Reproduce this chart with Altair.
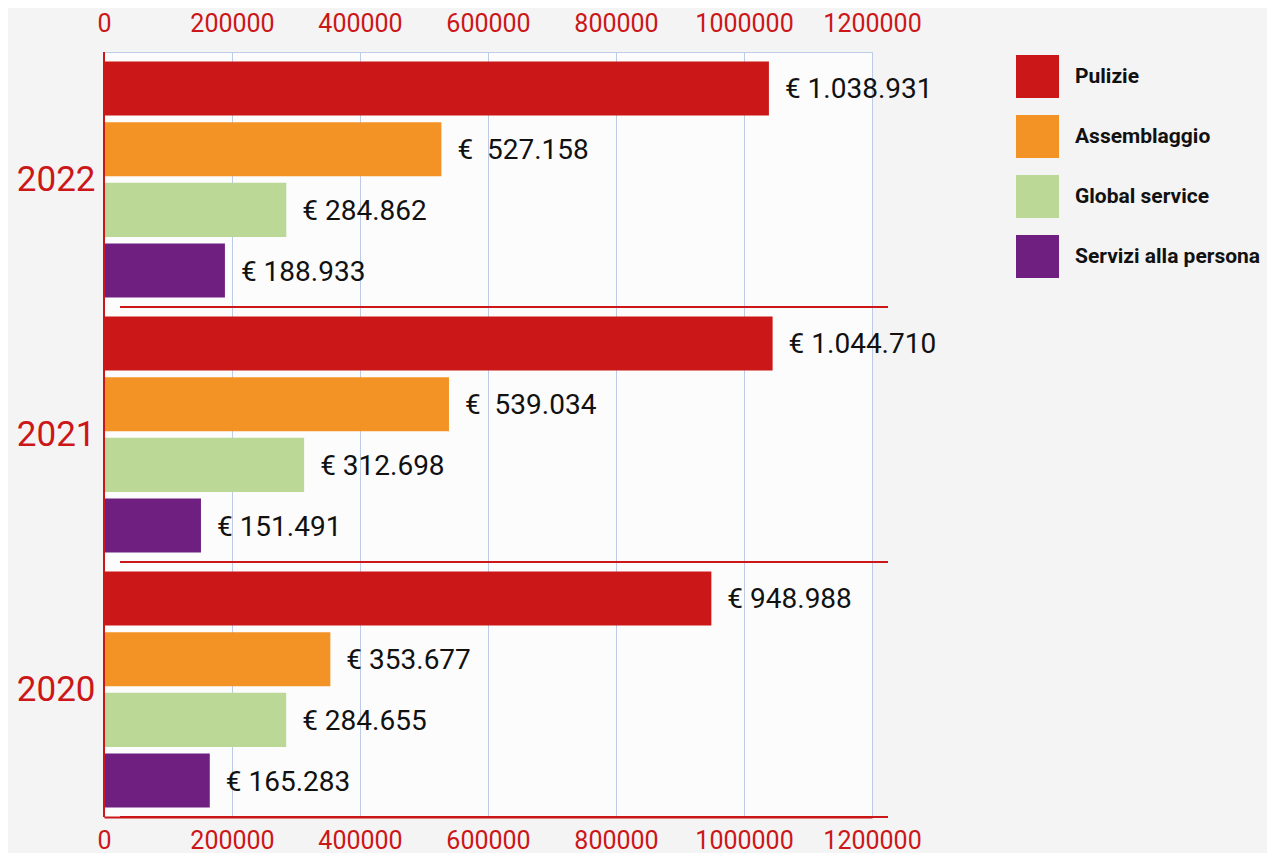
import altair as alt
import pandas as pd

years = ["2022", "2021", "2020"]
categories = ["Pulizie", "Assemblaggio", "Global service", "Servizi alla persona"]
colors = ["#cc1719", "#f39325", "#bbd897", "#6f1f80"]

values_2022 = [1038931, 527158, 284862, 188933]
values_2021 = [1044710, 539034, 312698, 151491]
values_2020 = [948988, 353677, 284655, 165283]

labels_2022 = ["€ 1.038.931", "€\u00a0 527.158", "€ 284.862", "€ 188.933"]
labels_2021 = ["€ 1.044.710", "€\u00a0 539.034", "€ 312.698", "€ 151.491"]
labels_2020 = ["€ 948.988", "€ 353.677", "€ 284.655", "€ 165.283"]

tick_values = [0, 200000, 400000, 600000, 800000, 1000000, 1200000]

rows = []
for yr, vals, labs in [("2022", values_2022, labels_2022),
                       ("2021", values_2021, labels_2021),
                       ("2020", values_2020, labels_2020)]:
    for c, v, l in zip(categories, vals, labs):
        rows.append({"year": yr, "category": c, "value": v, "label": l})
df = pd.DataFrame(rows)

sep_df = pd.DataFrame({"year": years, "xs": [25000] * 3, "xe": [1225000] * 3})
left_df = pd.DataFrame({"x0": [0]})

RED = "#cc1719"
GRID = "#bccbe6"
FONT = "Roboto"

W, H = 768, 765
xscale = alt.Scale(domain=[0, 1200000], nice=False, zero=True)
yscale = alt.Scale(paddingInner=0, paddingOuter=0)
yoff = alt.YOffset("category:N", sort=categories,
                   scale=alt.Scale(paddingInner=0.11, paddingOuter=0.155))
y_axis = alt.Axis(title=None, labelFontSize=35, labelColor=RED,
                  labelFont=FONT, ticks=False, domain=False,
                  labelPadding=9, grid=False)

base = alt.Chart(df)

bars = base.mark_bar().encode(
    y=alt.Y("year:N", sort=years, scale=yscale, axis=y_axis),
    yOffset=yoff,
    x=alt.X("value:Q", scale=xscale,
            axis=alt.Axis(orient="top", title=None, values=tick_values,
                          format="d", labelColor=RED, labelFontSize=25,
                          labelFont=FONT, ticks=False, domain=False,
                          grid=True, gridColor=GRID, gridWidth=1,
                          labelFlush=False, labelOverlap=False,
                          labelPadding=16)),
    color=alt.Color("category:N", sort=categories,
                    scale=alt.Scale(domain=categories, range=colors),
                    legend=alt.Legend(title=None, orient="none", legendX=912,
                                      legendY=3, symbolType="square",
                                      symbolSize=1849, symbolStrokeWidth=0,
                                      labelFontSize=21, labelFontWeight="bold",
                                      labelColor="#111111", labelFont="Roboto",
                                      labelLimit=400,
                                      rowPadding=17, labelOffset=16, padding=0)),
)

texts = base.mark_text(align="left", baseline="middle", dx=16, dy=2,
                       fontSize=28, font="Roboto", color="#111111").encode(
    y=alt.Y("year:N", sort=years, scale=yscale, axis=y_axis),
    yOffset=yoff,
    x=alt.X("value:Q", scale=xscale,
            axis=alt.Axis(orient="bottom", title=None, values=tick_values,
                          format="d", labelColor=RED, labelFontSize=25,
                          labelFont=FONT, ticks=False, domain=True,
                          domainColor=RED, domainWidth=2, grid=False,
                          labelFlush=False, labelOverlap=False,
                          labelPadding=11)),
    text="label:N",
)

seps = alt.Chart(sep_df).mark_rule(color=RED, strokeWidth=2, clip=False).encode(
    y=alt.Y("year:N", sort=years, scale=yscale, axis=y_axis, bandPosition=1),
    x=alt.X("xs:Q", scale=xscale, axis=None),
    x2="xe:Q",
)

left_line = alt.Chart(left_df).mark_rule(color=RED, strokeWidth=2).encode(
    x=alt.X("x0:Q", scale=xscale, axis=None),
    y=alt.value(0),
    y2=alt.value(H),
)

chart = alt.layer(bars, texts, seps, left_line).resolve_axis(
    x="independent"
).properties(
    width=W, height=H,
    autosize=alt.AutoSizeParams(type="none"),
    padding={"left": 96, "top": 44, "right": 395, "bottom": 36},
    background="#f4f4f4",
).configure_view(
    stroke=GRID, strokeWidth=1, fill="#fcfcfc"
)

chart.save("out.html", embed_options={"renderer": "svg", "actions": False})
